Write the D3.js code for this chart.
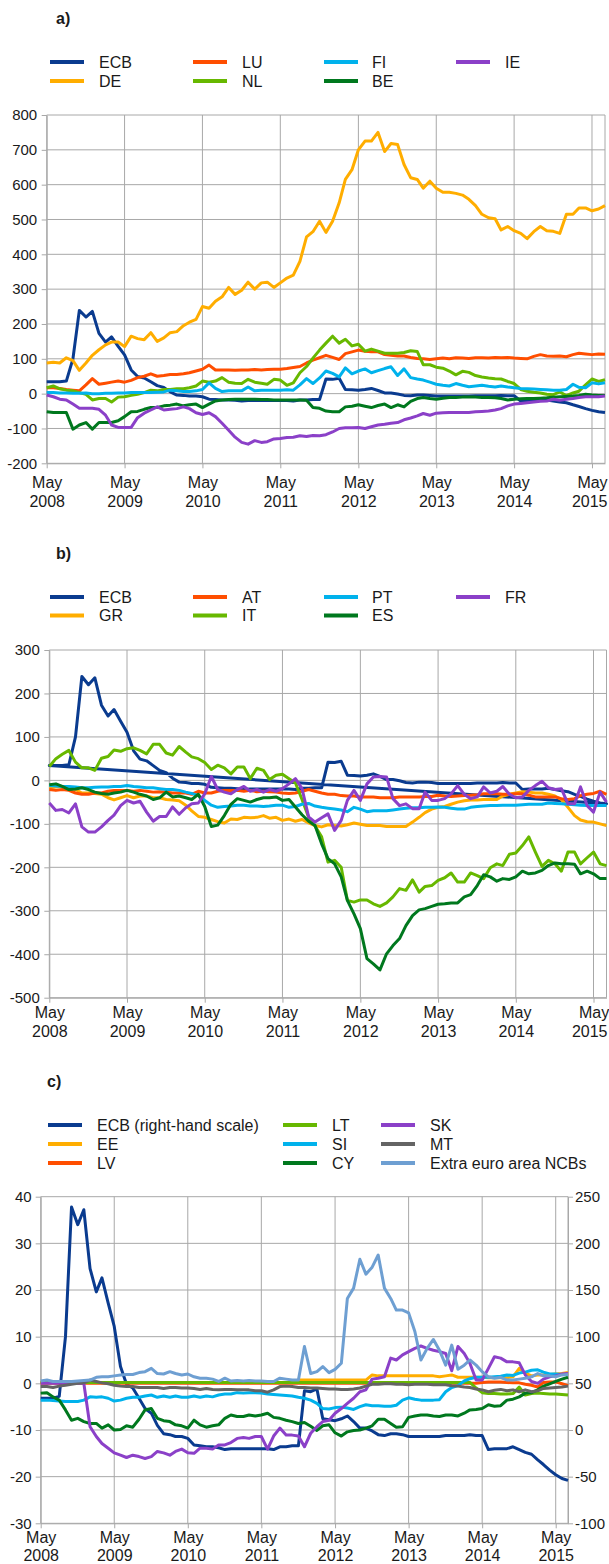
<!DOCTYPE html>
<html>
<head>
<meta charset="utf-8">
<script src="https://d3js.org/d3.v7.min.js"></script>
<style>
  body { margin: 0; background: #fff; }
  svg { display: block; }
</style>
</head>
<body>
<script>
// monthly observations, May 2008 - July 2015
const months = d3.timeMonth.range(new Date(2008, 4, 1), new Date(2015, 7, 1));
const tickYears = [2008, 2009, 2010, 2011, 2012, 2013, 2014, 2015];
const tickMonth = 'May';

// ECB (same series in all three panels, right-hand scale in c)
const ecb = [34,34,34,36,100,239,220,236,173,148, 163,136,111,68,49,45,34,23,18,5, -4,-5,-7,-7,-9,-16,-17,-18,-18,-19, -21,-20,-20,-20,-20,-20,-20,-20,-21,-18, -18,-17,-17,42,41,44,12,11,10,12, 15,9,2,2,-1,-5,-6,-4,-4,-5, -7,-7,-7,-7,-7,-7,-6,-6,-6,-6, -5,-6,-6,-21,-20,-20,-20,-18,-21,-24, -26,-32,-37,-43,-48,-52,-54];

// panel a
const de = [88,90,88,103,95,67,88,110,126,140, 148,148,135,165,158,155,175,150,160,175, 178,195,205,213,250,245,265,278,305,285, 297,320,300,318,320,305,318,332,340,380, 450,465,495,463,495,548,615,643,700,725, 725,750,695,718,715,658,620,615,590,610, 590,578,578,575,570,558,540,515,505,502, 470,480,468,460,445,465,480,468,466,460, 515,515,533,533,525,530,540];
const lu = [17,17,15,12,10,8,25,43,27,30, 33,36,33,38,46,50,57,50,52,55, 55,57,60,65,70,82,68,68,68,67, 68,68,69,68,69,70,70,72,75,78, 88,96,103,110,104,98,115,120,125,122, 120,120,112,110,108,108,104,101,100,98, 100,102,100,103,102,101,103,103,102,104, 103,104,102,101,100,107,112,108,107,108, 106,112,116,114,112,114,113];
const nl = [17,22,14,10,8,3,-2,-18,-14,-14, -24,-10,-9,-5,-2,3,10,8,12,12, 14,14,17,22,36,33,36,46,33,30, 29,41,33,30,27,41,39,24,31,60, 78,102,125,145,165,145,156,137,142,122, 128,122,116,116,116,118,123,121,83,83, 76,73,65,54,64,61,52,48,45,43, 42,35,29,12,7,4,2,-2,-3,5, -6,2,7,25,42,35,40];
const fi = [3,3,2,2,1,1,2,0,0,1, 1,2,2,3,3,3,3,4,5,10, 8,6,6,8,12,31,15,6,8,8, 8,19,8,10,10,10,10,11,10,25, 43,29,45,65,58,48,74,57,65,71, 60,66,72,77,52,71,46,42,39,33, 27,24,22,29,24,20,22,24,21,19, 22,19,17,15,14,13,12,11,10,10, 12,27,18,17,31,28,31];
const be = [-52,-54,-54,-54,-102,-90,-83,-102,-83,-83, -83,-78,-66,-52,-51,-45,-40,-40,-35,-33, -30,-35,-32,-30,-40,-30,-21,-18,-17,-16, -16,-16,-16,-17,-17,-18,-18,-18,-18,-18, -19,-40,-42,-50,-52,-52,-38,-36,-32,-36, -40,-34,-30,-40,-32,-38,-22,-14,-11,-14, -16,-13,-11,-11,-10,-10,-10,-11,-11,-12, -14,-18,-16,-15,-14,-14,-13,-12,-10,-9, -8,-7,-5,-2,-4,-5,-5];
const ie = [-4,-9,-16,-18,-30,-42,-42,-42,-45,-62, -90,-97,-97,-97,-69,-56,-47,-38,-47,-45, -43,-38,-43,-55,-60,-55,-66,-85,-105,-125, -140,-145,-135,-140,-138,-130,-129,-126,-125,-121, -123,-120,-121,-118,-110,-100,-98,-98,-97,-100, -95,-90,-88,-85,-83,-75,-70,-64,-57,-62, -56,-55,-54,-54,-54,-54,-52,-51,-50,-47, -43,-35,-30,-28,-26,-24,-22,-21,-16,-19, -16,-14,-11,-9,-9,-9,-7];

// panel b
const at = [-21,-23,-21,-23,-29,-32,-32,-29,-29,-25, -23,-23,-23,-25,-23,-25,-27,-26,-27,-29, -29,-29,-32,-25,-29,-29,-25,-23,-23,-23, -25,-23,-26,-25,-26,-27,-29,-30,-29,-25, -21,-25,-29,-32,-32,-35,-36,-36,-38,-38, -38,-40,-40,-40,-38,-38,-38,-38,-37,-37, -34,-36,-37,-36,-35,-34,-33,-31,-31,-31, -32,-32,-31,-31,-34,-38,-38,-38,-38,-42, -44,-42,-35,-32,-30,-25,-32];
const gr = [-17,-15,-14,-15,-21,-29,-29,-30,-32,-40, -45,-40,-35,-40,-36,-36,-40,-40,-44,-45, -47,-57,-70,-83,-85,-90,-95,-98,-89,-90, -85,-86,-85,-81,-87,-85,-92,-89,-94,-90, -98,-104,-107,-102,-104,-105,-102,-98,-101,-104, -104,-104,-106,-106,-106,-106,-96,-85,-74,-66, -62,-60,-55,-50,-47,-45,-45,-44,-44,-44, -36,-32,-29,-26,-27,-29,-29,-32,-36,-44, -62,-81,-91,-95,-96,-100,-104];
const pt = [-12,-13,-14,-14,-15,-17,-17,-16,-15,-15, -14,-14,-12,-14,-15,-17,-17,-19,-21,-21, -23,-27,-30,-35,-46,-57,-62,-60,-59,-57, -57,-59,-59,-60,-59,-57,-57,-62,-60,-55, -53,-59,-62,-64,-66,-68,-72,-62,-66,-72, -70,-70,-70,-68,-66,-64,-63,-63,-62,-62, -61,-62,-64,-66,-66,-62,-60,-59,-58,-58, -57,-57,-57,-56,-55,-55,-55,-52,-53,-54, -55,-56,-57,-58,-58,-58,-58];
const it = [32,50,60,69,42,29,29,23,51,55, 70,67,73,75,69,61,83,83,63,58, 78,65,54,50,41,25,35,29,15,31, 31,4,28,23,2,12,14,4,-6,-44, -85,-105,-130,-188,-184,-200,-276,-280,-275,-275, -284,-290,-282,-268,-249,-253,-229,-257,-244,-242, -230,-224,-213,-234,-234,-213,-219,-226,-201,-192, -196,-170,-167,-150,-130,-165,-198,-184,-192,-209, -165,-165,-192,-178,-165,-192,-196];
const es = [-10,-8,-14,-21,-20,-17,-21,-27,-30,-32, -29,-27,-23,-27,-32,-36,-44,-40,-27,-38, -36,-40,-44,-32,-60,-106,-103,-81,-55,-42, -46,-50,-44,-40,-40,-38,-46,-44,-61,-79, -94,-104,-146,-180,-192,-222,-276,-307,-341,-410, -422,-436,-399,-380,-364,-334,-311,-298,-295,-290, -285,-284,-282,-282,-268,-263,-242,-217,-222,-232, -226,-228,-222,-209,-215,-213,-207,-196,-190,-192, -192,-193,-215,-209,-215,-226,-226];
const fr = [-52,-69,-67,-75,-54,-107,-119,-119,-107,-92, -80,-58,-46,-52,-48,-73,-94,-83,-83,-61, -78,-63,-54,-52,-31,9,-21,-27,-31,-21, -14,-25,-21,-27,-21,-25,-19,-8,4,-19, -84,-96,-86,-77,-115,-92,-46,-23,-46,-8, 8,9,8,-42,-58,-54,-65,-65,-27,-46, -46,-42,-31,-12,-32,-42,-38,-15,-29,-25, -14,-32,-40,-38,-23,-12,-2,-17,-21,-19, -54,-54,-15,-58,-73,-27,-50];

// panel c (left-hand scale)
const ee = [0.2,0.2,0.2,0.2,0.2,0.2,0.2,0.2,0.2,0.2, 0.2,0.2,0.2,0.2,0.2,0.2,0.2,0.2,0.2,0.2, 0.2,0.2,0.2,0.2,0.2,0.2,0.2,0.2,0.2,0.2, 0.2,0.2,0.2,0.2,0.2,0.2,0.2,0.2,0.2,0.2, 0.2,0.2,0.7,0.7,0.7,0.7,0.7,0.7,0.7,0.7, 0.7,0.7,0.7,0.7,1.8,1.6,1.6,1.6,1.6,1.6, 1.6,1.6,1.6,1.6,1.6,1.4,1.6,1.8,1.3,1.3, 1.3,1.3,1.3,1.2,1.2,1.2,1.2,1.4,3.2,2.2, 1.6,1.8,1.8,1.9,2.0,2.1,2.3];
const lv = [0,0,0,0,0,0,0,0,0,0, 0,0,0,0,0,0,0,0,0,0, 0,0,0,0,0,0,0,0,0,0, 0,0,0,0,0,0,0,0,0,0, 0,0,0,0,0,0,0,0,0,0, 0,0,0,0,0,0,0,0,0,0, 0,0,0,0,0,0,0,0,0,0, 0,0,0.2,0.3,0.3,0.3,0.2,0.1,0.1,-0.2, -0.4,-0.8,0.2,0.3,0.3,-0.1,-0.5];
const lt = [0.2,0.2,0.2,0.2,0.2,0.2,0.2,0.2,0.2,0.2, 0.2,0.2,0.2,0.2,0.2,0.2,0.2,0.2,0.2,0.2, 0.2,0.2,0.2,0.2,0.2,0.2,0.2,0.2,0.2,0.2, 0.2,0.2,0.2,0.2,0.2,0.2,0.2,0.2,0.2,0.2, 0.2,0.2,0.2,0.2,0.2,0.2,0.2,0.2,0.2,0.2, 0.2,0.2,0.2,0.2,0.2,0.2,0.2,0.2,0.2,0.2, 0.2,0.2,0.2,0.2,0.2,0.2,0.2,0.2,0.2,0.2, 0.2,-1.0,-2.0,-2.2,-2.2,-2.3,-2.3,-2.2,-0.8,-2.5, -2.2,-2.1,-2.2,-2.3,-2.3,-2.4,-2.5];
const si = [-3.6,-3.6,-3.7,-3.8,-3.9,-3.9,-3.9,-3.6,-2.9,-3.0, -2.9,-3.2,-3.8,-3.6,-3.2,-3.0,-3.0,-2.7,-2.5,-3.0, -2.7,-3.0,-2.7,-3.0,-3.0,-2.7,-3.0,-2.7,-2.9,-2.5, -2.3,-2.3,-2.0,-2.1,-2.0,-2.0,-2.1,-2.3,-2.4,-2.5, -2.6,-2.7,-3.0,-3.2,-3.6,-4.3,-5.4,-5.5,-5.2,-5.1, -5.3,-5.6,-5.0,-4.6,-4.8,-4.8,-4.9,-4.9,-4.7,-3.6, -3.1,-3.4,-3.6,-3.6,-3.6,-3.5,-1.8,-0.9,-0.5,0.5, 1.0,1.3,1.3,1.3,1.4,1.5,1.8,1.7,2.2,2.4, 2.8,2.9,2.4,2.0,2.0,1.9,1.9];
const cy = [-2.1,-2.0,-2.9,-3.6,-5.7,-7.9,-7.5,-8.2,-8.6,-8.6, -9.6,-8.9,-10,-9.9,-9.1,-9.4,-7.7,-5.7,-5.4,-7.5, -8.0,-8.2,-8.9,-9.1,-9.6,-7.9,-8.9,-9.4,-9.1,-8.9, -7.5,-6.8,-7.1,-7.1,-6.8,-7.0,-6.8,-6.4,-7.3,-7.5, -7.9,-8.2,-8.6,-8.4,-9.2,-10.1,-9.1,-8.9,-10.6,-11.3, -10.4,-10.1,-10.0,-9.6,-9.1,-7.7,-7.7,-8.6,-9.4,-9.3, -7.3,-7.0,-6.8,-6.8,-7.0,-7.1,-6.8,-6.8,-7.0,-6.4, -5.7,-5.6,-5.4,-4.6,-4.9,-4.8,-3.6,-3.4,-2.9,-2.1, -2.0,-1.4,-0.6,-0.1,0.4,0.9,1.3];
const sk = [0,0,0,0,0,0,0,0,-9.3,-11.4, -12.9,-13.9,-14.9,-15.4,-15.9,-15.4,-15.7,-16.1,-15.7,-14.6, -14.9,-15.4,-14.6,-14.1,-14.9,-15.0,-13.9,-13.9,-14.1,-13.2, -13.2,-12.7,-11.8,-11.6,-11.8,-11.4,-11.4,-14.1,-11.3,-9.6, -11.1,-11.1,-11.3,-13.6,-10.7,-9.3,-8.2,-7.9,-6.4,-5.4, -4.3,-3.2,-1.8,-1.4,0.9,1.1,1.4,5.4,5.0,6.1, 6.8,7.5,8.0,7.5,7.1,6.8,6.4,2.7,7.9,6.4, 4.3,0.7,0.7,3.2,5.7,5.4,4.6,4.6,4.4,1.8, 0.4,0.0,0.9,1.4,1.6,2.0,2.1];
const mt = [-0.7,-0.7,-0.9,-0.6,-0.4,-0.2,0.0,0.1,0.7,0.4, 0.1,-0.1,-0.4,-0.6,-0.7,-0.7,-0.9,-0.9,-0.9,-0.9, -1.1,-0.9,-0.9,-1.0,-1.0,-1.1,-1.3,-1.1,-1.3,-1.4, -1.3,-1.3,-1.4,-1.4,-1.4,-1.6,-1.6,-1.9,-1.4,-0.7, -0.6,-0.7,-0.9,-0.9,-1.0,-1.0,-1.1,-1.2,-1.2,-1.3, -1.3,-1.2,-1.0,-0.6,-0.2,-0.2,-0.1,-0.1,-0.2,-0.2, -0.3,-0.2,-0.2,-0.2,-0.3,-0.3,-0.3,-0.5,-0.6,-0.8, -0.9,-1.2,-1.4,-1.8,-1.5,-1.3,-1.6,-1.4,-1.8,-1.4, -1.8,-1.6,-1.1,-1.0,-0.9,-0.8,-0.6];
const extraNcb = [0.5,0.7,0.4,0.4,0.4,0.4,0.5,0.6,0.7,1.3, 1.4,1.4,1.6,1.8,1.9,1.9,2.3,2.5,3.2,2.1, 2.0,2.5,2.1,1.8,2.0,1.4,1.1,1.1,0.9,0.4, 1.1,0.5,0.6,0.5,0.6,0.5,0.5,0.4,0.4,1.1, 0.9,0.7,0.7,7.9,2.1,2.5,3.6,2.3,3.0,4.3, 18.2,20.4,26.6,23.4,24.9,27.5,20.4,18.2,15.7,15.7, 15.1,11.1,5.0,7.5,9.4,7.1,3.9,8.2,3.0,3.9, 5.0,3.9,2.5,1.4,1.1,1.3,0.7,0.7,0.9,1.1, 1.4,2.1,1.6,1.6,1.4,1.8,1.9];

const C = {
  ecb: '#0a3b8f', orange: '#ffad00', red: '#ff4e00', green: '#67b800',
  cyan: '#00b2ec', dkgreen: '#00781e', purple: '#8b40c8', grey: '#646464', steel: '#6e9fd2'
};
const FONT = '"Liberation Sans", Arial, Helvetica, sans-serif';
const gridColor = '#a8a8a8';
const textColor = '#1a1a1a';

const svg = d3.select('body').append('svg')
  .attr('width', 609).attr('height', 1564)
  .attr('font-family', FONT);

const tickDates = tickYears.map(y => new Date(y, 4, 1));

function drawPanel(p) {
  const g = svg.append('g');
  const x = d3.scaleTime().domain([months[0], months[months.length - 1]]).range([p.left, p.right]);
  const y = d3.scaleLinear().domain(p.yDomain).range([p.bottom, p.top]);
  const yR = p.rDomain ? d3.scaleLinear().domain(p.rDomain).range([p.bottom, p.top]) : null;

  // title
  g.append('text').attr('x', p.titleX).attr('y', p.titleY)
    .attr('font-size', 16).attr('font-weight', 'bold').attr('fill', textColor).text(p.title);

  // legend, filled column by column
  const nRows = p.legendRows.length;
  p.series.forEach((s, i) => {
    const col = Math.floor(i / nRows), ly = p.legendRows[i % nRows];
    g.append('line').attr('x1', p.swatchX[col]).attr('x2', p.swatchX[col] + 34)
      .attr('y1', ly).attr('y2', ly).attr('stroke', s.color).attr('stroke-width', 4);
    g.append('text').attr('x', p.textX[col]).attr('y', ly).attr('dy', '0.36em')
      .attr('font-size', 16).attr('fill', textColor).text(s.name);
  });

  // grid
  g.append('g').selectAll('line').data(p.yTicks).join('line')
    .attr('x1', p.left).attr('x2', p.right).attr('y1', d => y(d)).attr('y2', d => y(d))
    .attr('stroke', gridColor);
  g.append('g').selectAll('line').data(tickDates.concat([months[months.length - 1]])).join('line')
    .attr('x1', d => x(d)).attr('x2', d => x(d)).attr('y1', p.top).attr('y2', p.bottom)
    .attr('stroke', gridColor);

  // y axis (plain hyphen for negatives, as in the original)
  const ya = g.append('g').attr('transform', `translate(${p.left},0)`)
    .call(d3.axisLeft(y).tickValues(p.yTicks).tickSize(5).tickSizeOuter(0)
      .tickPadding(p.yPad).tickFormat(d => String(d)));
  ya.attr('font-family', FONT).attr('font-size', p.yFont);
  ya.selectAll('path, line').attr('stroke', gridColor);
  ya.selectAll('text').attr('fill', textColor);

  if (yR) {
    const ra = g.append('g').attr('transform', `translate(${p.right},0)`)
      .call(d3.axisRight(yR).tickValues(p.rTicks).tickSize(5).tickSizeOuter(0)
        .tickPadding(2).tickFormat(d => String(d)));
    ra.attr('font-family', FONT).attr('font-size', p.yFont);
    ra.selectAll('path, line').attr('stroke', gridColor);
    ra.selectAll('text').attr('fill', textColor);
  }

  // x axis with two-line labels
  const xa = g.append('g').attr('transform', `translate(0,${p.bottom})`)
    .call(d3.axisBottom(x).tickValues(tickDates).tickSize(5).tickSizeOuter(0).tickFormat(''));
  xa.attr('font-family', FONT).attr('font-size', 16);
  xa.selectAll('path, line').attr('stroke', gridColor);
  xa.selectAll('.tick text').attr('dy', null).attr('y', null).attr('fill', textColor)
    .each(function (d) {
      const t = d3.select(this);
      t.append('tspan').attr('x', 0).attr('y', p.mayDy).text(tickMonth);
      const yr = t.append('tspan').attr('x', 0).attr('y', p.yearDy).text(d.getFullYear());
      // keep the last year label inside the picture
      const over = x(d) + yr.node().getComputedTextLength() / 2 - 607;
      if (over > 0) yr.attr('x', -over);
    });

  // lines
  p.series.forEach(s => {
    const sc = s.right ? yR : y;
    const line = d3.line().x((d, i) => x(months[i])).y(d => sc(d));
    g.append('path').attr('d', line(s.data) + (s.closed ? 'Z' : ''))
      .attr('fill', 'none').attr('stroke', s.color).attr('stroke-width', 3)
      .attr('stroke-linejoin', 'round');
  });
}

drawPanel({
  title: 'a)', titleX: 56, titleY: 24,
  legendRows: [62, 81], swatchX: [50, 193, 324, 456], textX: [99, 242, 372, 505],
  left: 46.7, right: 605, top: 115, bottom: 463.3,
  yDomain: [-200, 800], yTicks: d3.range(-200, 801, 100), yPad: 4.5, yFont: 15,
  mayDy: 25, yearDy: 43.5,
  series: [
    { name: 'ECB', data: ecb, color: C.ecb },
    { name: 'DE', data: de, color: C.orange },
    { name: 'LU', data: lu, color: C.red },
    { name: 'NL', data: nl, color: C.green },
    { name: 'FI', data: fi, color: C.cyan },
    { name: 'BE', data: be, color: C.dkgreen },
    { name: 'IE', data: ie, color: C.purple }
  ]
});

drawPanel({
  title: 'b)', titleX: 56, titleY: 558.5,
  legendRows: [597, 615.5], swatchX: [50, 193, 324, 456], textX: [99, 242, 372, 505],
  left: 49.3, right: 606.5, top: 650, bottom: 997.7,
  yDomain: [-500, 300], yTicks: d3.range(-500, 301, 100), yPad: 4.5, yFont: 15,
  mayDy: 20.5, yearDy: 39,
  series: [
    { name: 'ECB', data: ecb, color: C.ecb, closed: true },
    { name: 'GR', data: gr, color: C.orange },
    { name: 'AT', data: at, color: C.red },
    { name: 'IT', data: it, color: C.green },
    { name: 'PT', data: pt, color: C.cyan },
    { name: 'ES', data: es, color: C.dkgreen },
    { name: 'FR', data: fr, color: C.purple }
  ]
});

drawPanel({
  title: 'c)', titleX: 47, titleY: 1087,
  legendRows: [1125, 1144, 1163], swatchX: [48, 283, 381], textX: [97, 332, 430],
  left: 40.7, right: 568, top: 1196.7, bottom: 1523.3,
  yDomain: [-30, 40], yTicks: d3.range(-30, 41, 10), yPad: 4, yFont: 15,
  rDomain: [-100, 250], rTicks: d3.range(-100, 251, 50),
  mayDy: 20, yearDy: 38,
  series: [
    { name: 'ECB (right-hand scale)', data: ecb, color: C.ecb, right: true },
    { name: 'EE', data: ee, color: C.orange },
    { name: 'LV', data: lv, color: C.red },
    { name: 'LT', data: lt, color: C.green },
    { name: 'SI', data: si, color: C.cyan },
    { name: 'CY', data: cy, color: C.dkgreen },
    { name: 'SK', data: sk, color: C.purple },
    { name: 'MT', data: mt, color: C.grey },
    { name: 'Extra euro area NCBs', data: extraNcb, color: C.steel }
  ]
});
</script>
</body>
</html>
